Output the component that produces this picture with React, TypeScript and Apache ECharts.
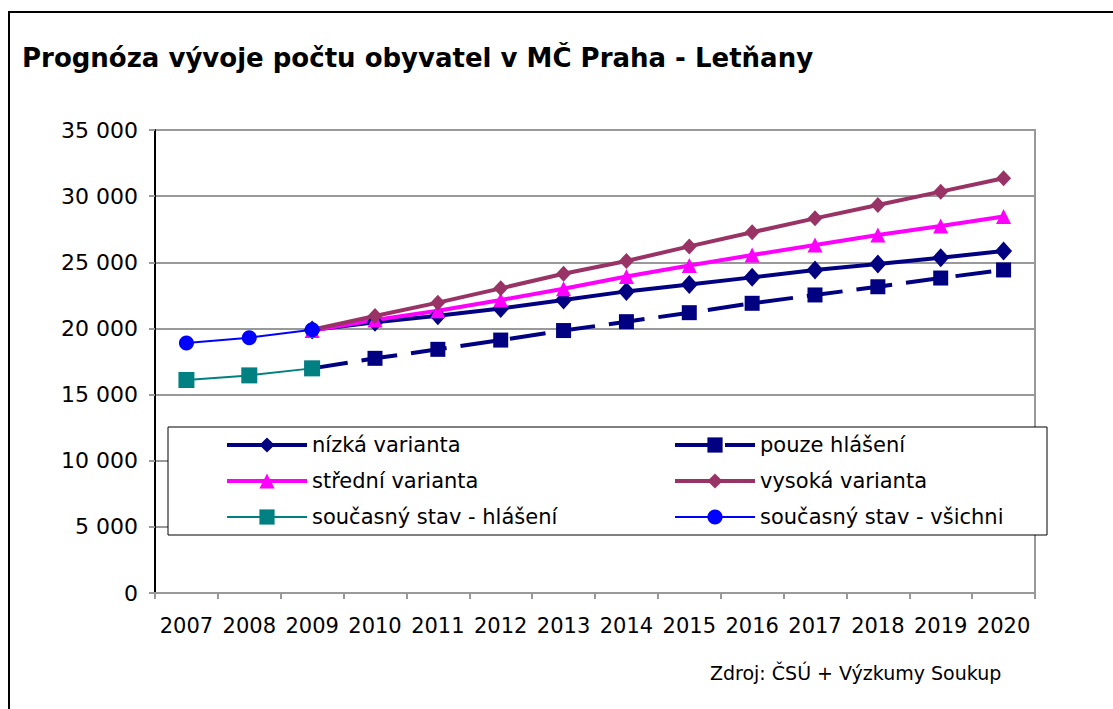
import React, { useEffect, useRef } from "react";
import * as echarts from "echarts";

const years = ["2007", "2008", "2009", "2010", "2011", "2012", "2013", "2014", "2015", "2016", "2017", "2018", "2019", "2020"];
const nizka = [null, null, 19880, 20460, 20960, 21500, 22150, 22800, 23320, 23860, 24420, 24870, 25350, 25850];
const pouzeHlaseni = [null, null, 16980, 17740, 18420, 19120, 19840, 20510, 21190, 21900, 22530, 23150, 23810, 24420];
const stredni = [null, null, 19850, 20640, 21340, 22150, 23000, 23930, 24750, 25550, 26310, 27060, 27740, 28460];
const vysoka = [null, null, 19900, 20940, 21950, 23030, 24130, 25100, 26200, 27270, 28320, 29330, 30340, 31350];
const soucasnyHlaseni = [16100, 16450, 16980, null, null, null, null, null, null, null, null, null, null, null];
const soucasnyVsichni = [18900, 19300, 19900, null, null, null, null, null, null, null, null, null, null, null];

const FONT = "DejaVu Sans";

function fmt(v: number) {
  return String(v).replace(/\B(?=(\d{3})+(?!\d))/g, " ");
}

export default function App() {
  const ref = useRef<HTMLDivElement>(null);
  useEffect(() => {
    if (!ref.current) return;
    const chart = echarts.init(ref.current, null, { renderer: "svg" });
    const legendText = { fontFamily: FONT, fontSize: 21, color: "#000", lineHeight: 22 };
    chart.setOption({
      animation: false,
      backgroundColor: "#fff",
      title: {
        text: "Prognóza vývoje počtu obyvatel v MČ Praha - Letňany",
        left: 17,
        top: 40,
        textStyle: { fontFamily: FONT, fontSize: 26, fontWeight: "bold", color: "#000" },
      },
      grid: {
        left: 155,
        right: 78,
        top: 130,
        bottom: 116,
        show: true,
        borderColor: "#999",
        borderWidth: 2,
        containLabel: false,
      },
      legend: [
        {
          orient: "vertical",
          left: 220,
          top: 429,
          itemWidth: 80,
          itemHeight: 19,
          itemGap: 14,
          textStyle: legendText,
          data: [
            { name: "nízká varianta", lineStyle: { width: 4, color: "#000080" } },
            { name: "střední varianta", lineStyle: { width: 4, color: "#FF00FF" } },
            { name: "současný stav - hlášení", lineStyle: { width: 2, color: "#008080" } },
          ],
        },
        {
          orient: "vertical",
          left: 668,
          top: 429,
          itemWidth: 80,
          itemHeight: 19,
          itemGap: 14,
          textStyle: legendText,
          data: [
            { name: "pouze hlášení", lineStyle: { width: 4, color: "#000080", type: [40, 10] } },
            { name: "vysoká varianta", lineStyle: { width: 4, color: "#993366" } },
            { name: "současný stav - všichni", lineStyle: { width: 2, color: "#0000FF" } },
          ],
        },
      ],
      xAxis: {
        type: "category",
        data: years,
        boundaryGap: true,
        axisLine: { lineStyle: { color: "#999", width: 2 } },
        axisTick: { show: true, interval: 0, length: 6, lineStyle: { color: "#999", width: 2 } },
        axisLabel: { interval: 0, fontFamily: FONT, fontSize: 21, color: "#000", margin: 22 },
      },
      yAxis: {
        type: "value",
        min: 0,
        max: 35000,
        interval: 5000,
        axisLine: { show: true, lineStyle: { color: "#000", width: 2 } },
        axisTick: { show: true, length: 6, lineStyle: { color: "#999", width: 2 } },
        axisLabel: { fontFamily: FONT, fontSize: 22, color: "#000", margin: 17, formatter: (v: number) => fmt(v) },
        splitLine: { show: true, lineStyle: { color: "#999", width: 2 } },
      },
      graphic: [
        {
          type: "rect",
          silent: true,
          z: 3,
          shape: { x: 168, y: 427, width: 879, height: 108 },
          style: { fill: "#fff", stroke: "#000", lineWidth: 1 },
        },
        {
          type: "rect",
          silent: true,
          z: 10,
          shape: { x: 9, y: 12, width: 1120, height: 720 },
          style: { fill: "none", stroke: "#000", lineWidth: 2 },
        },
        {
          type: "text",
          x: 710,
          y: 673,
          style: {
            text: "Zdroj: ČSÚ + Výzkumy Soukup",
            fontFamily: FONT,
            fontSize: 19,
            fill: "#000",
            textVerticalAlign: "middle",
          },
        },
      ],
      series: [
        {
          name: "nízká varianta",
          type: "line",
          data: nizka,
          color: "#000080",
          symbol: "diamond",
          symbolSize: [17, 19],
          showAllSymbol: true,
          lineStyle: { width: 4, color: "#000080" },
          itemStyle: { color: "#000080" },
        },
        {
          name: "pouze hlášení",
          type: "line",
          data: pouzeHlaseni,
          color: "#000080",
          symbol: "rect",
          symbolSize: 15,
          lineStyle: { width: 4, color: "#000080", type: [36, 14] },
          itemStyle: { color: "#000080" },
        },
        {
          name: "střední varianta",
          type: "line",
          data: stredni,
          color: "#FF00FF",
          symbol: "triangle",
          symbolSize: 15,
          lineStyle: { width: 4, color: "#FF00FF" },
          itemStyle: { color: "#FF00FF" },
        },
        {
          name: "vysoká varianta",
          type: "line",
          data: vysoka,
          color: "#993366",
          symbol: "diamond",
          symbolSize: [15, 16],
          lineStyle: { width: 4, color: "#993366" },
          itemStyle: { color: "#993366" },
        },
        {
          name: "současný stav - hlášení",
          type: "line",
          data: soucasnyHlaseni,
          color: "#008080",
          symbol: "rect",
          symbolSize: 16,
          lineStyle: { width: 2, color: "#008080" },
          itemStyle: { color: "#008080" },
        },
        {
          name: "současný stav - všichni",
          type: "line",
          data: soucasnyVsichni,
          color: "#0000FF",
          symbol: "circle",
          symbolSize: 15,
          lineStyle: { width: 2, color: "#0000FF" },
          itemStyle: { color: "#0000FF" },
        },
      ],
    });
    return () => chart.dispose();
  }, []);
  return <div ref={ref} style={{ position: "fixed", left: 0, top: 0, width: 1113, height: 709 }} />;
}
